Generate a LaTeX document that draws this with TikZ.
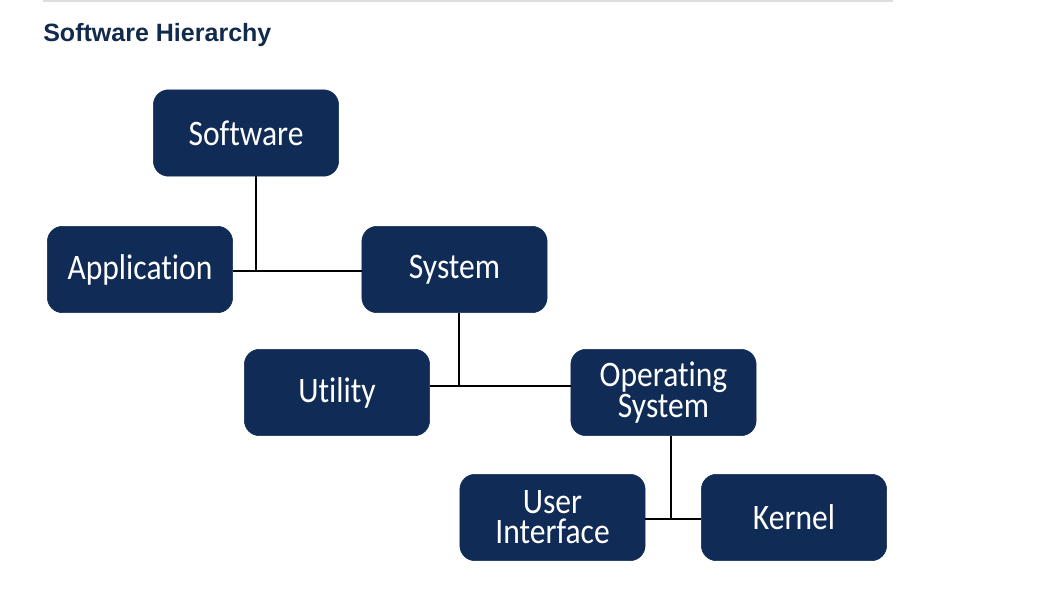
\documentclass[tikz,border=0pt]{standalone}
\usepackage{fontspec}
\setmainfont{Carlito}[FakeStretch=0.88,Ligatures=NoCommon]
\newfontfamily\headfont{Liberation Sans}
\usepackage{xcolor}
\usetikzlibrary{calc,positioning}
\definecolor{navy}{HTML}{102B56}
\definecolor{ink}{HTML}{122A4C}
\definecolor{rule}{HTML}{DDDDDD}
\tikzset{%
  block/.style={rectangle, rounded corners=0.38cm, fill=navy, draw=navy,
    text=white, minimum width=4.63cm, minimum height=2.16cm, align=center,
    font=\fontsize{25.5}{21.5}\selectfont},
  link/.style={line width=1.8pt, black},
  heading/.style={font=\headfont\bfseries\fontsize{17.8}{20}\selectfont, text=ink, inner sep=0pt},
}

\begin{document}
\begin{tikzpicture}[x=0.025cm,y=-0.025cm]
    \useasboundingbox (0,0) rectangle (1055,599);

    \draw[rule, line width=1.5pt] (43,0.7) -- (893,0.7);
    \node[heading, anchor=base west] (title) at (43,41) {Software Hierarchy};

    \node[block] (soft) at (246,133) {Software};
    \node[block] (app) at (140,269.5) {Application};
    \node[block] (sys) at (454.5,269.5) {System};
    \node[block] (util) at (337,392.5) {Utility};
    \node[block] (os) at (663.5,392.5) {Operating\\System};
    \node[block] (ui) at (552.5,517.5) {User\\Interface};
    \node[block] (kern) at (794,517.5) {Kernel};

    \coordinate (j1) at (256,271);
    \coordinate (j2) at (459,386);
    \coordinate (j3) at (671,519);

    \draw[link] (soft.south -| j1) -- (j1);
    \draw[link] (app.east |- j1) -- (sys.west |- j1);
    \draw[link] (sys.south -| j2) -- (j2);
    \draw[link] (util.east |- j2) -- (os.west |- j2);
    \draw[link] (os.south -| j3) -- (j3);
    \draw[link] (ui.east |- j3) -- (kern.west |- j3);
\end{tikzpicture}
\end{document}
